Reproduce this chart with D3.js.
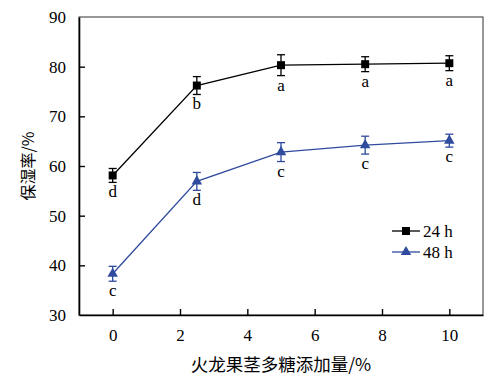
<!DOCTYPE html>
<html>
<head>
<meta charset="utf-8">
<script src="https://cdn.jsdelivr.net/npm/d3@7"></script>
<style>
    body { margin: 0; background: #fff; }
    svg { display: block; }
</style>
</head>
<body>
<div id="chart"></div>
<script>
// data
const doses = [0, 2.5, 5, 7.5, 10];
const h24 = [58.1, 76.2, 80.3, 80.5, 80.7];
const h24Err = [1.4, 1.8, 2.1, 1.5, 1.5];
const h24Letters = ["d", "b", "a", "a", "a"];
const h48 = [38.3, 56.9, 62.8, 64.2, 65.1];
const h48Err = [1.5, 1.8, 1.9, 1.8, 1.3];
const h48Letters = ["c", "d", "c", "c", "c"];
const xTicks = [0, 2, 4, 6, 8, 10];
const yTicks = [30, 40, 50, 60, 70, 80, 90];

const width = 500, height = 377;
const margin = {top: 17, right: 17, bottom: 62, left: 79};

const svg = d3.select("#chart").append("svg")
    .attr("width", width)
    .attr("height", height);

const x = d3.scaleLinear().domain([-1, 11]).range([margin.left, width - margin.right]);
const y = d3.scaleLinear().domain([30, 90]).range([height - margin.bottom, margin.top]);

const serif = "'Liberation Serif', 'Times New Roman', serif";
const cjk = "'Noto Sans CJK SC', sans-serif";

// frame (top / right)
svg.append("rect")
    .attr("x", x(-1)).attr("y", y(90))
    .attr("width", x(11) - x(-1)).attr("height", y(30) - y(90))
    .attr("fill", "none").attr("stroke", "#333").attr("stroke-width", 1);

// axes with inward ticks
let xAxis = svg.append("g")
    .attr("transform", `translate(0,${y(30)})`)
    .call(d3.axisBottom(x).tickValues(xTicks).tickSizeInner(-6).tickSizeOuter(0).tickPadding(14));
let yAxis = svg.append("g")
    .attr("transform", `translate(${x(-1)},0)`)
    .call(d3.axisLeft(y).tickValues(yTicks).tickSizeInner(-6).tickSizeOuter(0).tickPadding(13));

[xAxis, yAxis].forEach(g => {
    g.select(".domain").attr("stroke", "#000").attr("stroke-width", 1.6);
    g.selectAll(".tick line").attr("stroke", "#000").attr("stroke-width", 1.4);
    g.selectAll(".tick text").attr("fill", "#000")
        .style("font-family", serif).style("font-size", "17px");
});
yAxis.selectAll(".tick line").filter(d => d === 30 || d === 90).remove();

// axis titles
svg.append("text")
    .attr("x", 281).attr("y", 371)
    .attr("text-anchor", "middle")
    .style("font-family", cjk).style("font-size", "17.5px")
    .text("火龙果茎多糖添加量/%");
svg.append("text")
    .attr("transform", `translate(34,${(y(30) + y(90)) / 2}) rotate(-90)`)
    .attr("text-anchor", "middle")
    .style("font-family", cjk).style("font-size", "16px")
    .text("保湿率/%");

const series = [
    {vals: h24, err: h24Err, letters: h24Letters, color: "#000", shape: d3.symbolSquare, size: 64, name: "24 h"},
    {vals: h48, err: h48Err, letters: h48Letters, color: "#2f4b9e", shape: d3.symbolTriangle, size: 48, name: "48 h"}
];

const line = d3.line().x(d => x(d[0])).y(d => y(d[1]));

series.forEach(s => {
    let pts = doses.map((d, i) => [d, s.vals[i], s.err[i], s.letters[i]]);
    let g = svg.append("g");

    g.append("path")
        .attr("d", line(pts))
        .attr("fill", "none").attr("stroke", s.color).attr("stroke-width", 1.3);

    // error bars
    pts.forEach(p => {
        let cx = x(p[0]);
        g.append("line")
            .attr("x1", cx).attr("x2", cx)
            .attr("y1", y(p[1] - p[2])).attr("y2", y(p[1] + p[2]))
            .attr("stroke", s.color).attr("stroke-width", 1.3);
        [p[1] - p[2], p[1] + p[2]].forEach(v => {
            g.append("line")
                .attr("x1", cx - 4).attr("x2", cx + 4)
                .attr("y1", y(v)).attr("y2", y(v))
                .attr("stroke", s.color).attr("stroke-width", 1.3);
        });
    });

    g.selectAll(".mark")
        .data(pts)
        .enter()
        .append("path")
        .attr("transform", d => `translate(${x(d[0])},${y(d[1])})`)
        .attr("d", d3.symbol().type(s.shape).size(s.size))
        .attr("fill", s.color);

    // significance letters
    g.selectAll(".letter")
        .data(pts)
        .enter()
        .append("text")
        .attr("x", d => x(d[0]))
        .attr("y", d => y(d[1] - d[2]) + 15)
        .attr("text-anchor", "middle")
        .attr("fill", "#000")
        .style("font-family", serif).style("font-size", "17px")
        .text(d => d[3]);
});

// legend
const legend = svg.append("g").attr("transform", "translate(392,231)");
series.forEach((s, i) => {
    let ly = i * 21;
    legend.append("line")
        .attr("x1", 0).attr("x2", 28).attr("y1", ly).attr("y2", ly)
        .attr("stroke", s.color).attr("stroke-width", 1.3);
    legend.append("path")
        .attr("transform", `translate(14,${ly})`)
        .attr("d", d3.symbol().type(s.shape).size(s.size))
        .attr("fill", s.color);
    legend.append("text")
        .attr("x", 31).attr("y", ly)
        .attr("dy", "0.35em")
        .style("font-family", serif).style("font-size", "17px")
        .text(s.name);
});
</script>
</body>
</html>
